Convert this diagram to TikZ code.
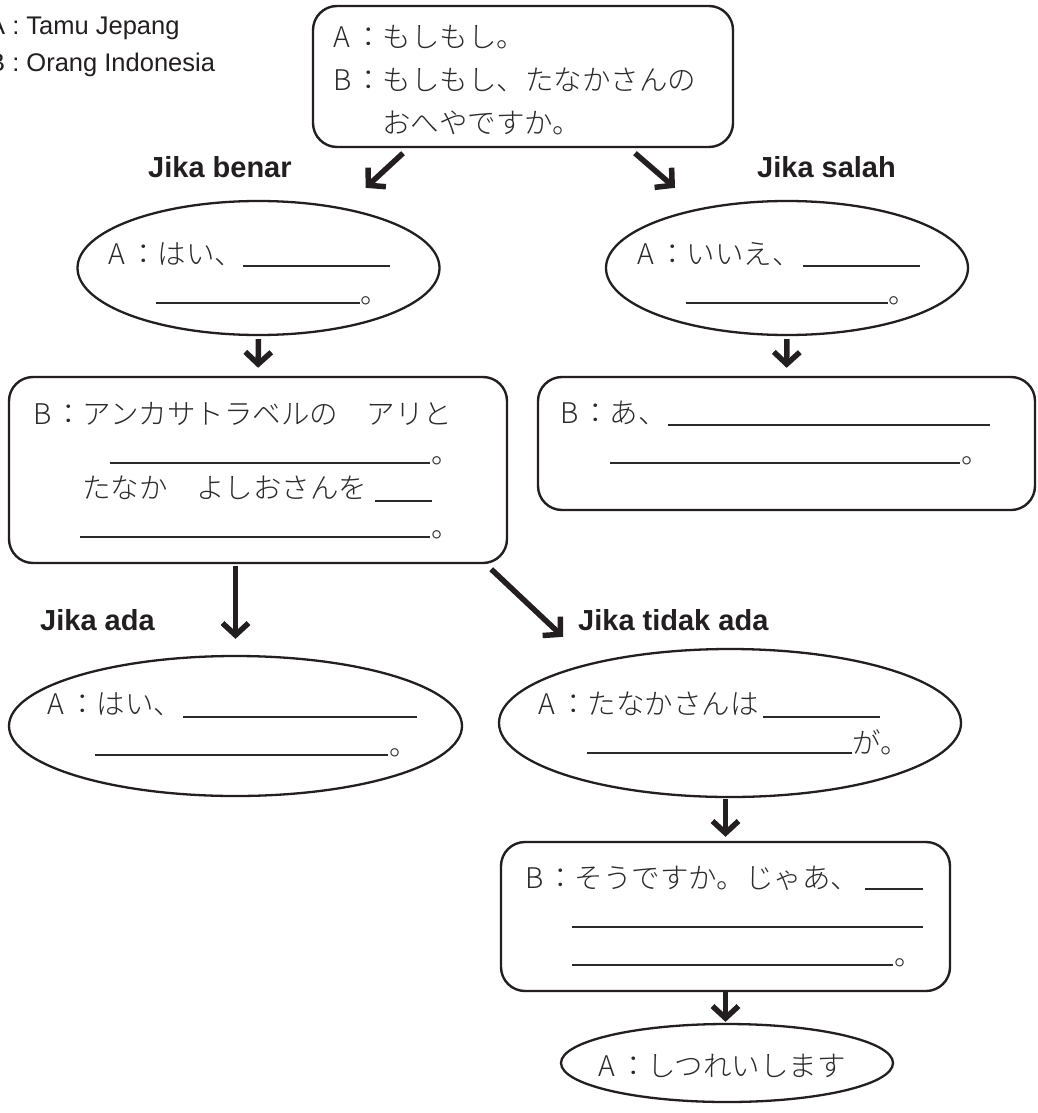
\documentclass[tikz,border=0pt]{standalone}
\usepackage{fontspec}
\setmainfont{Liberation Sans}
\IfFontExistsTF{Noto Sans CJK JP Light}
  {\newfontfamily\jfont{Noto Sans CJK JP Light}}
  {\newfontfamily\jfont{Noto Sans CJK JP}}
\usetikzlibrary{arrows.meta,shapes.geometric,calc}

\definecolor{ink}{HTML}{231F20}
\definecolor{jink}{HTML}{2A2A2A}

% speaker letter in a fixed-width slot, so the colons line up
\newcommand{\speaker}[1]{\makebox[21pt][l]{#1}}

\begin{document}
\begin{tikzpicture}[x=1pt,y=-1pt,
  panel/.style={draw=ink,line width=2.4pt,rounded corners=24pt,inner sep=0pt},
  bubble/.style={draw=ink,line width=2.3pt,ellipse,inner sep=0pt},
  flow/.style={draw=ink,line width=5.5pt,
    -{Straight Barb[length=12pt,width=26pt,line width=5.5pt]}},
  jline/.style={anchor=base west,inner sep=0pt,text=jink,
    font=\jfont\fontsize{28.5}{28.5}\selectfont},
  blank/.style={draw=jink,line width=1.1pt},
  legend/.style={anchor=base west,inner sep=0pt,text=ink,
    font=\fontsize{25.5}{26}\selectfont},
  cond/.style={anchor=base west,inner sep=0pt,text=ink,
    font=\bfseries\fontsize{29}{30}\selectfont},
]
\useasboundingbox[fill=white] (0,0) rectangle (1038,1113);

% legend
\node[legend] (lgA) at (-12,35) {A : Tamu Jepang};
\node[legend] (lgB) at (-12,72) {B : Orang Indonesia};

% frames
\node[panel,minimum width=420pt,minimum height=141pt] (t) at (523,76.5) {};
\node[bubble,minimum width=362pt,minimum height=134pt] (e1) at (258.5,268) {};
\node[bubble,minimum width=362pt,minimum height=134pt] (e2) at (787,268) {};
\node[panel,minimum width=498pt,minimum height=186pt] (b1) at (258,470) {};
\node[panel,minimum width=497pt,minimum height=133pt] (b2) at (786.5,443.5) {};
\node[bubble,minimum width=453pt,minimum height=140pt] (e3) at (235.5,726) {};
\node[bubble,minimum width=462pt,minimum height=148pt] (e4) at (730,723) {};
\node[panel,minimum width=449pt,minimum height=149pt] (b3) at (725.5,916.5) {};
\node[bubble,minimum width=332pt,minimum height=78pt] (e5) at (727,1063) {};

% branch labels
\node[cond] (lbenar) at (148,177) {Jika benar};
\node[cond] (lsalah) at (757,177) {Jika salah};
\node[cond] (lada) at (40,630) {Jika ada};
\node[cond] (ltidak) at (578,630) {Jika tidak ada};

% connectors
\draw[flow] ($(t.south)+(-120,5)$) -- ($(e1.north)+(107,-12)$);
\draw[flow] ($(t.south)+(112,5)$) -- ($(e2.north)+(-112,-12)$);
\draw[flow,shorten <=3pt,shorten >=8pt] (e1.south) -- (b1.north);
\draw[flow,shorten <=3pt,shorten >=8pt] (e2.south) -- (b2.north);
\draw[flow,shorten <=2pt,shorten >=16pt] (b1.south -| e3.north) -- (e3.north);
\draw[flow] ($(b1.south east)+(-17,5)$) -- ($(e4.north)+(-167,-11)$);
\draw[flow,shorten <=1pt,shorten >=4pt] (b3.north |- e4.south) -- (b3.north);
\draw[flow,shorten >=1pt] (b3.south) -- (b3.south |- e5.north);

% top frame text
\node[jline] (t1) at (333,48) {\speaker{A}：もしもし。};
\node[jline] (t2) at (333,91) {\speaker{B}：もしもし、たなかさんの};
\node[jline] (t3) at (382,133) {おへやですか。};

% left upper bubble
\node[jline] (e1a) at (108,264) {\speaker{A}：はい、};
\draw[blank] (243,266) -- (390,266);
\draw[blank] (156,303) -- (360,303);
\node[jline] (e1b) at (360,303) {。};

% right upper bubble
\node[jline] (e2a) at (637,264) {\speaker{A}：いいえ、};
\draw[blank] (803,266) -- (920,266);
\draw[blank] (686,303) -- (888,303);
\node[jline] (e2b) at (888,303) {。};

% left frame
\node[jline] (b1a) at (33,424) {\speaker{B}：アンカサトラベルの　アリと};
\draw[blank] (110,463) -- (430,463);
\node[jline] (b1b) at (431,463) {。};
\node[jline] (b1c) at (82,498) {たなか　よしおさんを};
\draw[blank] (375,501) -- (432,501);
\draw[blank] (80,537) -- (430,537);
\node[jline] (b1d) at (431,537) {。};

% right frame
\node[jline] (b2a) at (560,423) {\speaker{B}：あ、};
\draw[blank] (668,425) -- (990,425);
\draw[blank] (610,463) -- (960,463);
\node[jline] (b2b) at (961,463) {。};

% left lower bubble
\node[jline] (e3a) at (47,714) {\speaker{A}：はい、};
\draw[blank] (183,717) -- (417,717);
\draw[blank] (95,755) -- (388,755);
\node[jline] (e3b) at (389,755) {。};

% right lower bubble
\node[jline] (e4a) at (538,714) {\speaker{A}：たなかさんは};
\draw[blank] (763,717) -- (880,717);
\draw[blank] (587,753) -- (852,753);
\node[jline] (e4b) at (852,753) {が。};

% lower frame
\node[jline] (b3a) at (525,888) {\speaker{B}：そうですか。じゃあ、};
\draw[blank] (865,889) -- (923,889);
\draw[blank] (572,927) -- (923,927);
\draw[blank] (572,965) -- (893,965);
\node[jline] (b3b) at (894,965) {。};

% closing bubble
\node[jline] (e5a) at (598,1076) {\speaker{A}：しつれいします};
\end{tikzpicture}
\end{document}
